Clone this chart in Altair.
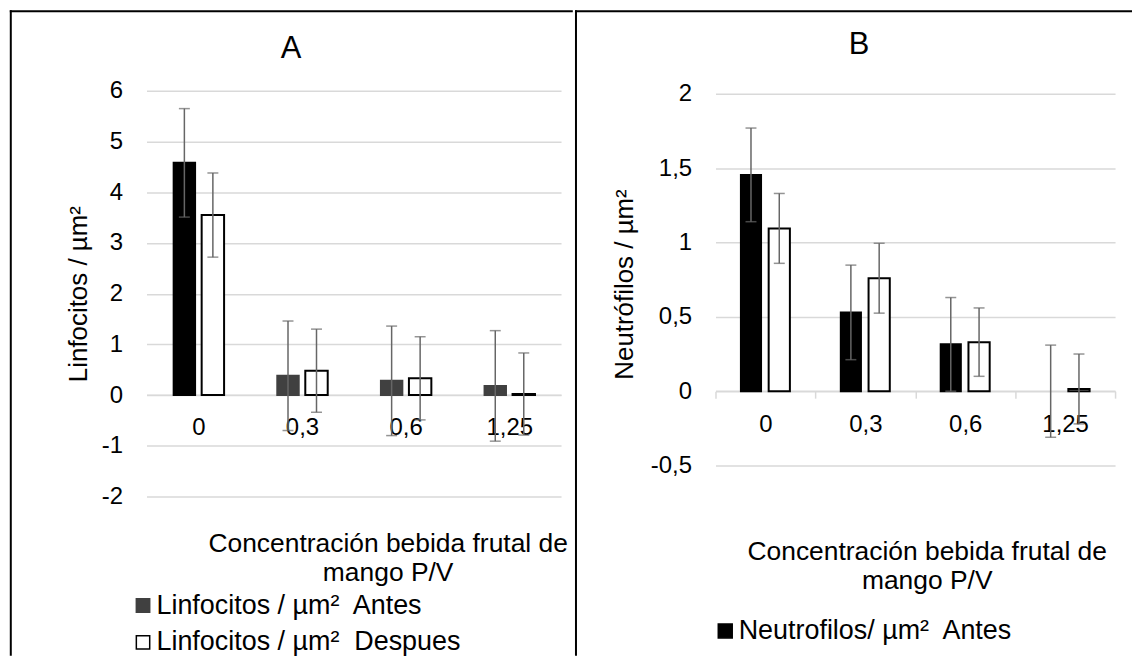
import altair as alt
import pandas as pd

FONT = "Liberation Sans"

conc = ["0", "0,3", "0,6", "1,25"]

linf_series = ["Linfocitos / µm²\u00a0 Antes", "Linfocitos / µm²\u00a0 Despues"]
linf_antes = [4.58, 0.38, 0.28, 0.18]
linf_despues = [3.55, 0.48, 0.33, 0.02]
linf_err_antes = [1.07, 1.08, 1.08, 1.09]
linf_err_despues = [0.83, 0.82, 0.82, 0.81]

neut_series = ["Neutrofilos/ µm²\u00a0 Antes", "Neutrofilos/ µm²\u00a0 Despues"]
neut_antes = [1.455, 0.53, 0.315, 0.0]
neut_despues = [1.095, 0.76, 0.33, 0.015]
neut_err_antes = [0.315, 0.318, 0.315, 0.31]
neut_err_despues = [0.235, 0.235, 0.23, 0.235]

x_title = ["Concentración bebida frutal de", "mango P/V"]


def make_df(series, antes, despues, ea, ed):
    rows = []
    for i, c in enumerate(conc):
        rows.append(dict(conc=c, serie=series[0], value=antes[i],
                         lo=antes[i] - ea[i], hi=antes[i] + ea[i]))
        rows.append(dict(conc=c, serie=series[1], value=despues[i],
                         lo=despues[i] - ed[i], hi=despues[i] + ed[i]))
    return pd.DataFrame(rows)


def panel(df, series, letter, ytitle, ydom, yvals, W, H, fill_range, stroke_range,
          first_black, legend_vals, leg_x, leg_y, sym, xt_x, xt_y,
          yt_x, yt_y, x_ticks, x_lab_pad, t_x, t_y, frame, bar_w, bar_dx):
    zero_off = -(H * (0 - ydom[0]) / (ydom[1] - ydom[0]))
    xscale = alt.Scale(paddingInner=0, paddingOuter=0)
    yscale = alt.Scale(domain=ydom, nice=False, zero=False)

    x_axis = alt.Axis(
        orient="bottom", offset=zero_off, domain=True, domainColor="#d9d9d9",
        domainWidth=1.5, ticks=x_ticks, tickBand="extent", tickColor="#d9d9d9",
        tickWidth=1.5, tickSize=7 if x_ticks else 0, labelAngle=0,
        labelFontSize=24, labelFont=FONT, labelColor="black",
        labelBaseline="alphabetic", labelPadding=x_lab_pad, grid=False,
        title=x_title, titleX=xt_x, titleY=xt_y, titleAlign="center",
        titleBaseline="alphabetic", titleFontSize=26.5, titleFont=FONT,
        titleFontWeight="normal", titleColor="black", titleLineHeight=29)
    y_axis = alt.Axis(
        values=yvals, labelExpr="replace(toString(datum.value), '.', ',')",
        grid=True, gridColor="#d9d9d9", gridWidth=1.5, domain=False,
        ticks=False, tickSize=0, labelFontSize=24, labelFont=FONT,
        labelColor="black", labelPadding=24, title=ytitle, titleX=yt_x,
        titleY=yt_y, titleFontSize=26, titleFont=FONT, titleFontWeight="normal",
        titleColor="black", titleAngle=270, titleAlign="center",
        titleBaseline="alphabetic")

    leg_kwargs = dict(title=None, orient="none", legendX=leg_x, legendY=leg_y,
                      symbolType="square", symbolSize=sym, symbolStrokeWidth=1.5,
                      labelFontSize=27, labelFont=FONT, labelColor="black",
                      labelOffset=0, rowPadding=9, padding=0, labelLimit=600,
                      direction="vertical")
    if legend_vals is not None:
        leg_kwargs["values"] = legend_vals

    fill_field = alt.Fill("serie:N", sort=series,
                          scale=alt.Scale(domain=series, range=fill_range),
                          legend=alt.Legend(**leg_kwargs))
    stroke_field = alt.Stroke("serie:N", sort=series,
                              scale=alt.Scale(domain=series, range=stroke_range),
                              legend=alt.Legend(**leg_kwargs))
    if first_black:
        pred = "datum.conc == '0' && indexof(datum.serie, 'Antes') >= 0"
        fill = alt.condition(pred, alt.value("black"), fill_field)
        stroke = alt.condition(pred, alt.value("black"), stroke_field)
    else:
        fill = fill_field
        stroke = stroke_field

    X = alt.X("conc:N", sort=conc, scale=xscale, axis=x_axis)

    layers = []
    for s, w, dx in zip(series, bar_w, bar_dx):
        sub = alt.Chart(df).transform_filter(
            alt.FieldEqualPredicate(field="serie", equal=s))
        layers.append(sub.mark_bar(strokeWidth=2, width=w, xOffset=dx).encode(
            x=X,
            y=alt.Y("value:Q", scale=yscale, axis=y_axis),
            y2=alt.datum(0),
            fill=fill,
            stroke=stroke,
            strokeOpacity=alt.condition("datum.value == 0", alt.value(0), alt.value(1)),
        ))
    for s, dx in zip(series, bar_dx):
        sub = alt.Chart(df).transform_filter(
            alt.FieldEqualPredicate(field="serie", equal=s))
        layers.append(sub.mark_rule(color="#666666", strokeWidth=1.5, xOffset=dx).encode(
            x=X,
            y=alt.Y("lo:Q", scale=yscale, axis=y_axis),
            y2="hi:Q",
        ))
        layers.append(sub.transform_fold(["lo", "hi"], as_=["k", "v"]).mark_tick(
            color="#666666", thickness=1.5, size=11, xOffset=dx).encode(
            x=X,
            y=alt.Y("v:Q", scale=yscale, axis=y_axis),
        ))

    layers.append(alt.Chart(pd.DataFrame({"t": [letter]})).mark_text(
        font=FONT, fontSize=31, color="black", align="center",
        baseline="alphabetic").encode(
        x=alt.value(t_x), y=alt.value(t_y), text="t:N"))

    one = pd.DataFrame({"k": [0]})
    fl, ft, fr, fb = frame
    fstyle = dict(color="black", strokeWidth=2, strokeCap="butt")
    layers.append(alt.Chart(one).mark_rule(**fstyle).encode(
        x=alt.value(fl - 1), x2=alt.value(fr), y=alt.value(ft)))
    layers.append(alt.Chart(one).mark_rule(**fstyle).encode(
        x=alt.value(fl), y=alt.value(ft - 1), y2=alt.value(fb)))
    return alt.layer(*layers).properties(width=W, height=H)


dfA = make_df(linf_series, linf_antes, linf_despues, linf_err_antes, linf_err_despues)
dfB = make_df(neut_series, neut_antes, neut_despues, neut_err_antes, neut_err_despues)

pA = panel(dfA, linf_series, "A", "Linfocitos / µm²", [-2, 6], [-2, -1, 0, 1, 2, 3, 4, 5, 6],
           416, 407, ["#404040", "white"], ["#404040", "black"], True, None,
           -17, 503, 180, 242, 157, -60.7, 203.5, False, 40, 145, -32.5,
           (-136.2, -80, 427.8, 567), [21.5, 22.5], [-14, 14.6])
pB = panel(dfB, neut_series, "B", "Neutrófilos / µm²", [-0.5, 2.0201],
           [-0.5, 0, 0.5, 1, 1.5, 2], 401, 376, ["black", "white"], ["black", "black"],
           False, [neut_series[0]], -3.7, 528.5, 196, 212, 169, -82.9, 193.8, True, 33,
           144, -36.8, (-140, -80, 418, 567), [20.2, 21.3], [-14.5, 13.9])

chart = alt.hconcat(pA, pB, spacing=0).resolve_scale(
    fill="independent", stroke="independent").properties(
    padding={"left": 0, "top": 0, "right": 0, "bottom": 0},
    background="white").configure_view(strokeWidth=0, stroke="transparent")

chart.save("out.html", embed_options={"renderer": "svg", "actions": False})
